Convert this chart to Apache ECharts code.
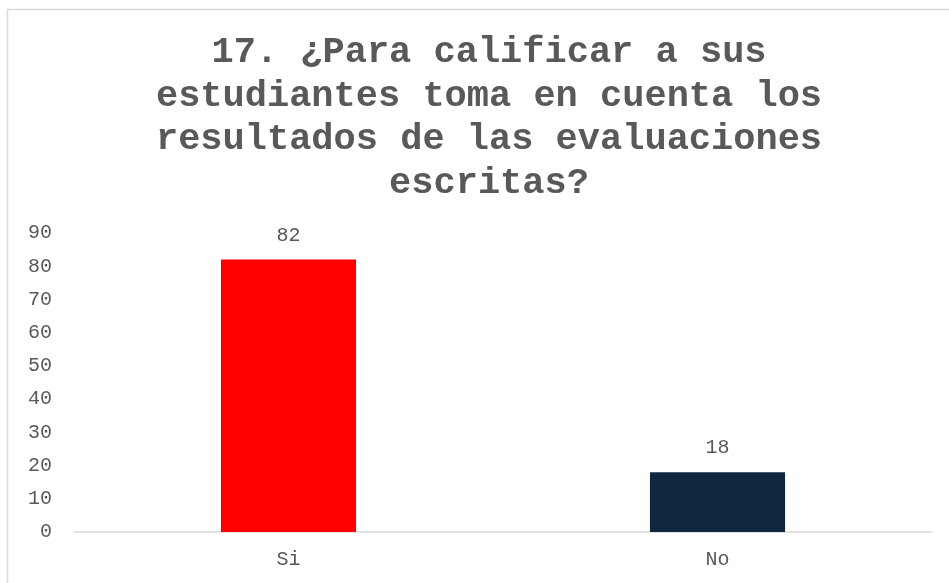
<!DOCTYPE html>
<html>
<head>
<meta charset="utf-8">
<script src="https://cdn.jsdelivr.net/npm/echarts@6/dist/echarts.min.js"></script>
<style>
html,body{margin:0;padding:0;background:#fff;}
#c{width:949px;height:583px;}
</style>
</head>
<body>
<div id="c"></div>
<script>
const titleText = "17. ¿Para calificar a sus\nestudiantes toma en cuenta los\nresultados de las evaluaciones\nescritas?";
const categories = ["Si", "No"];
const values = [82, 18];
const barColors = ["#FF0000", "#10283F"];
const yTicks = { min: 0, max: 90, interval: 10 };

const font = "'Courier New', 'Liberation Mono', monospace";
const chart = echarts.init(document.getElementById('c'), null, { renderer: 'canvas' });
chart.setOption({
  animation: false,
  backgroundColor: '#fff',
  graphic: [{
    type: 'rect',
    shape: { x: 7.5, y: 9.5, width: 960, height: 600 },
    style: { fill: 'none', stroke: '#d9d9d9', lineWidth: 1.5 },
    silent: true
  }],
  title: {
    text: titleText,
    left: 484,
    textAlign: 'center',
    top: 26,
    textStyle: {
      fontFamily: font,
      fontWeight: 'bold',
      fontSize: 37,
      lineHeight: 43.5,
      color: '#595959'
    }
  },
  grid: { left: 74, right: 17, top: 233, bottom: 51, containLabel: false },
  xAxis: {
    type: 'category',
    data: categories,
    axisLine: { lineStyle: { color: '#d9d9d9', width: 1.5 } },
    axisTick: { show: false },
    axisLabel: { fontFamily: font, fontSize: 20, color: '#595959', margin: 18 }
  },
  yAxis: {
    type: 'value',
    min: yTicks.min,
    max: yTicks.max,
    interval: yTicks.interval,
    axisLine: { show: false },
    axisTick: { show: false },
    splitLine: { show: false },
    axisLabel: { fontFamily: font, fontSize: 20, color: '#595959', margin: 22 }
  },
  series: [{
    type: 'bar',
    data: values.map((v, i) => ({ value: v, itemStyle: { color: barColors[i] } })),
    barWidth: '31.5%',
    label: {
      show: true,
      position: 'top',
      distance: 14,
      fontFamily: font,
      fontSize: 20,
      color: '#595959'
    }
  }]
});
</script>
</body>
</html>
